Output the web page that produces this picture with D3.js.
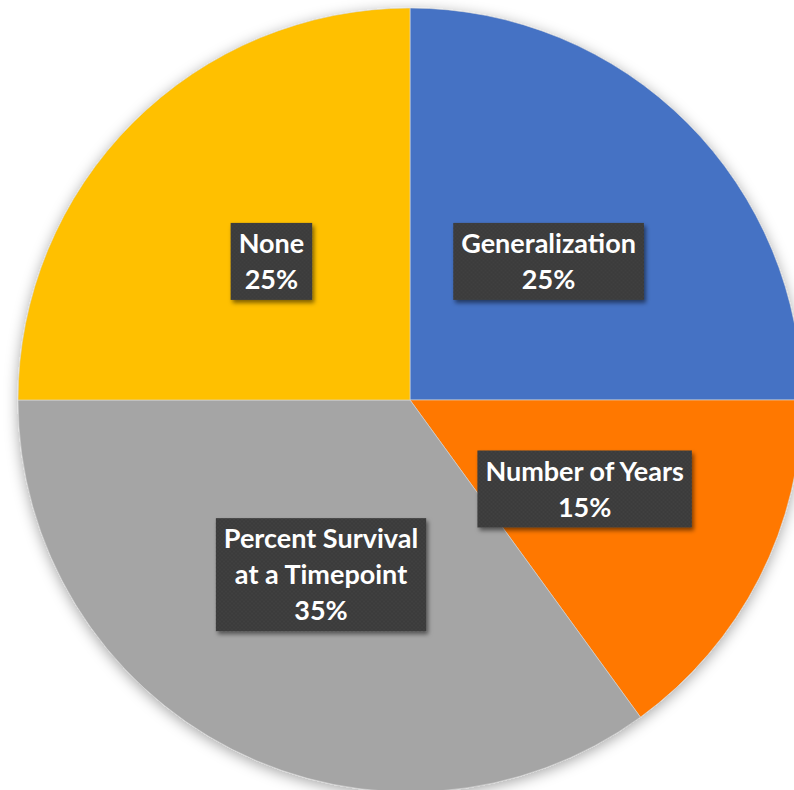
<!DOCTYPE html>
<html>
<head>
<meta charset="utf-8">
<script src="https://cdn.jsdelivr.net/npm/d3@7"></script>
<style>
  body { margin: 0; background: #fff; }
  svg { display: block; }
</style>
</head>
<body>
<svg id="chart"></svg>
<script>
const width = 794, height = 790;

// data
const categories = ["Generalization", "Number of Years", "Percent Survival at a Timepoint", "None"];
const values = [25, 15, 35, 25];
const labelLines = [["Generalization"], ["Number of Years"], ["Percent Survival", "at a Timepoint"], ["None"]];
const colors = ["#4472C4", "#FF7800", "#A5A5A5", "#FFC000"];

const cx = 410, cy = 400, radius = 392;

const svg = d3.select("#chart")
  .attr("width", width)
  .attr("height", height);

const defs = svg.append("defs");

// soft halo round the pie
const pieShadow = defs.append("filter").attr("id", "pieShadow")
  .attr("x", "-10%").attr("y", "-10%").attr("width", "120%").attr("height", "120%");
pieShadow.append("feDropShadow")
  .attr("dx", 0).attr("dy", 3).attr("stdDeviation", 7)
  .attr("flood-color", "#000").attr("flood-opacity", 0.35);

// shadow under label boxes
const boxShadow = defs.append("filter").attr("id", "boxShadow")
  .attr("x", "-20%").attr("y", "-20%").attr("width", "140%").attr("height", "140%");
boxShadow.append("feDropShadow")
  .attr("dx", 2).attr("dy", 3).attr("stdDeviation", 2)
  .attr("flood-color", "#000").attr("flood-opacity", 0.5);

// dotted texture of the label boxes
const dots = defs.append("pattern").attr("id", "dots")
  .attr("width", 4).attr("height", 4).attr("patternUnits", "userSpaceOnUse");
dots.append("rect").attr("width", 4).attr("height", 4).attr("fill", "#3a3a3a");
dots.append("circle").attr("cx", 1).attr("cy", 1).attr("r", 0.8).attr("fill", "#4a4a4a");
dots.append("circle").attr("cx", 3).attr("cy", 3).attr("r", 0.8).attr("fill", "#4a4a4a");

const pie = d3.pie().sort(null).value(d => d)(values);

const arc = d3.arc().innerRadius(0).outerRadius(radius);
const labelArc = d3.arc().innerRadius(radius * 0.5).outerRadius(radius * 0.5);

const g = svg.append("g").attr("transform", "translate(" + cx + "," + cy + ")");

g.append("g")
  .attr("filter", "url(#pieShadow)")
  .selectAll("path")
  .data(pie)
  .join("path")
  .attr("d", arc)
  .attr("fill", (d, i) => colors[i])
  .attr("stroke", "#d8d8d8")
  .attr("stroke-width", 0.6);

// labels
const lineHeight = 36;
const padX = 8, padY = 5;

const labels = g.selectAll("g.label")
  .data(pie)
  .join("g")
  .attr("class", "label")
  .attr("transform", d => "translate(" + labelArc.centroid(d) + ")");

labels.each(function(d, i) {
  const lg = d3.select(this);
  const lines = labelLines[i].concat([values[i] + "%"]);
  const box = lg.append("rect")
    .attr("fill", "url(#dots)")
    .attr("filter", "url(#boxShadow)");
  const text = lg.append("text")
    .attr("text-anchor", "middle")
    .attr("fill", "#fff")
    .style("font-family", "Lato, 'Open Sans', sans-serif")
    .style("font-weight", 700)
    .style("font-size", "27px");
  const top = -(lines.length - 1) * lineHeight / 2;
  lines.forEach((t, k) => {
    text.append("tspan")
      .attr("x", 0)
      .attr("y", top + k * lineHeight)
      .attr("dy", "0.36em")
      .text(t);
  });
  let w = 0;
  text.selectAll("tspan").each(function() { w = Math.max(w, this.getComputedTextLength()); });
  const h = lines.length * lineHeight + padY;
  box.attr("x", -w / 2 - padX)
    .attr("y", -h / 2)
    .attr("width", w + padX * 2)
    .attr("height", h);
});
</script>
</body>
</html>
